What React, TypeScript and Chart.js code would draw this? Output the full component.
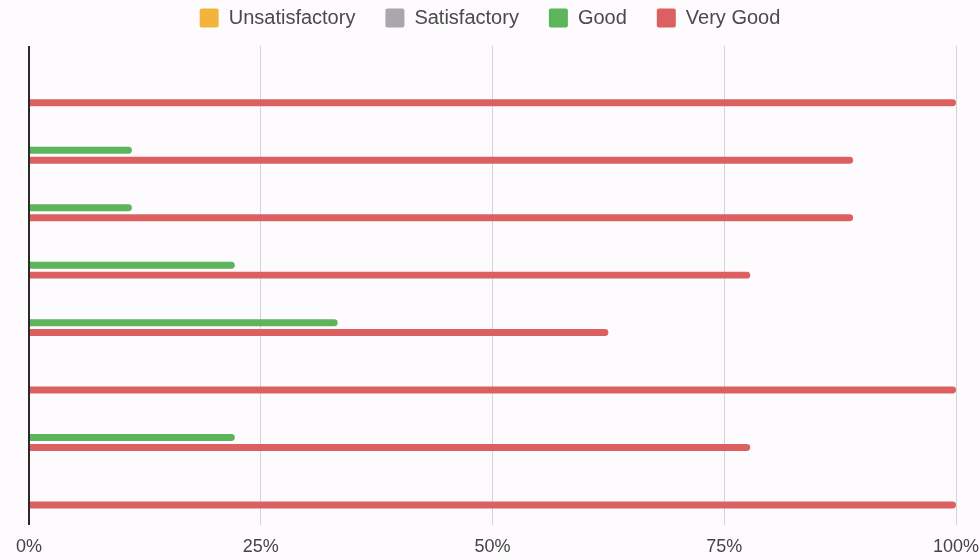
import React, { useEffect, useRef } from 'react';
import { Chart, registerables } from 'chart.js';

Chart.register(...registerables);

// ---- data ----
const categories = ['Item 1', 'Item 2', 'Item 3', 'Item 4', 'Item 5', 'Item 6', 'Item 7', 'Item 8'];
const seriesLabels = ['Unsatisfactory', 'Satisfactory', 'Good', 'Very Good'];
const unsatisfactory = [0, 0, 0, 0, 0, 0, 0, 0];
const satisfactory = [0, 0, 0, 0, 0, 0, 0, 0];
const good = [0, 11.1, 11.1, 22.2, 33.3, 0, 22.2, 0];
const veryGood = [100, 88.9, 88.9, 77.8, 62.5, 100, 77.8, 100];
const xTickValues = [0, 25, 50, 75, 100];

const seriesValues = [unsatisfactory, satisfactory, good, veryGood];
const seriesColors = ['#f2b43c', '#a9a6ad', '#5cb55a', '#dc6062'];

export default function App() {
  const ref = useRef<HTMLCanvasElement>(null);

  useEffect(() => {
    if (!ref.current) return;
    Chart.defaults.font.family = '"Liberation Sans", Arial, sans-serif';

    const legendGap = {
      id: 'legendGap',
      beforeInit(chart: any) {
        const lg = chart.legend;
        if (lg) {
          const orig = lg.fit.bind(lg);
          lg.fit = function () {
            orig();
            this.height += 8;
          };
        }
      },
    };

    const chart = new Chart(ref.current, {
      type: 'bar',
      data: {
        datasets: seriesLabels.map((label, k) => ({
          label,
          data: categories.map((_, i) => ({ x: seriesValues[k][i], y: i })),
          backgroundColor: seriesColors[k],
          borderWidth: 0,
          borderRadius: 4,
          categoryPercentage: 0.69,
          barPercentage: 0.7,
        })),
      },
      options: {
        indexAxis: 'y',
        animation: false,
        responsive: false,
        layout: { padding: { left: 0, right: 0, top: 0, bottom: 0 } },
        plugins: {
          legend: {
            position: 'top',
            align: 'center',
            labels: {
              boxWidth: 19,
              boxHeight: 19,
              padding: 30,
              color: '#4a4a4a',
              font: { size: 20 },
              useBorderRadius: true,
              borderRadius: 2,
            },
          },
          tooltip: {
            callbacks: {
              title: (items: any[]) => categories[items[0].parsed.y] ?? '',
            },
          },
        },
        scales: {
          x: {
            type: 'linear',
            position: 'bottom',
            min: 0,
            max: 100,
            afterBuildTicks: (axis: any) => {
              axis.ticks = xTickValues.map((v) => ({ value: v }));
            },
            afterFit: (axis: any) => {
              axis.height = 46;
              axis.paddingRight = 24;
              axis.paddingLeft = 0;
            },
            ticks: {
              callback: (v: any) => v + '%',
              color: '#444',
              font: { size: 18 },
              padding: 11,
              maxRotation: 0,
            },
            grid: {
              color: (c: any) => (c.tick && c.tick.value === 0 ? '#2a2a2a' : '#d3d3d8'),
              lineWidth: (c: any) => (c.tick && c.tick.value === 0 ? 2 : 1),
              drawTicks: true,
              tickLength: 6,
            },
            border: { display: false },
          },
          y: {
            type: 'linear',
            reverse: true,
            offset: false,
            min: -0.7295,
            max: 7.5037,
            afterBuildTicks: (axis: any) => {
              axis.ticks = categories.map((_, i) => ({ value: i }));
            },
            afterFit: (axis: any) => {
              axis.width = 29;
            },
            ticks: { display: false },
            grid: { display: false, offset: false },
            border: { display: false },
          },
        },
      } as any,
      plugins: [legendGap],
    });

    return () => chart.destroy();
  }, []);

  return (
    <div
      style={{
        position: 'absolute',
        left: 0,
        top: -22,
        width: 980,
        height: 587,
        background: '#fdfbfd',
      }}
    >
      <canvas ref={ref} width={980} height={587} style={{ display: 'block' }} />
    </div>
  );
}
